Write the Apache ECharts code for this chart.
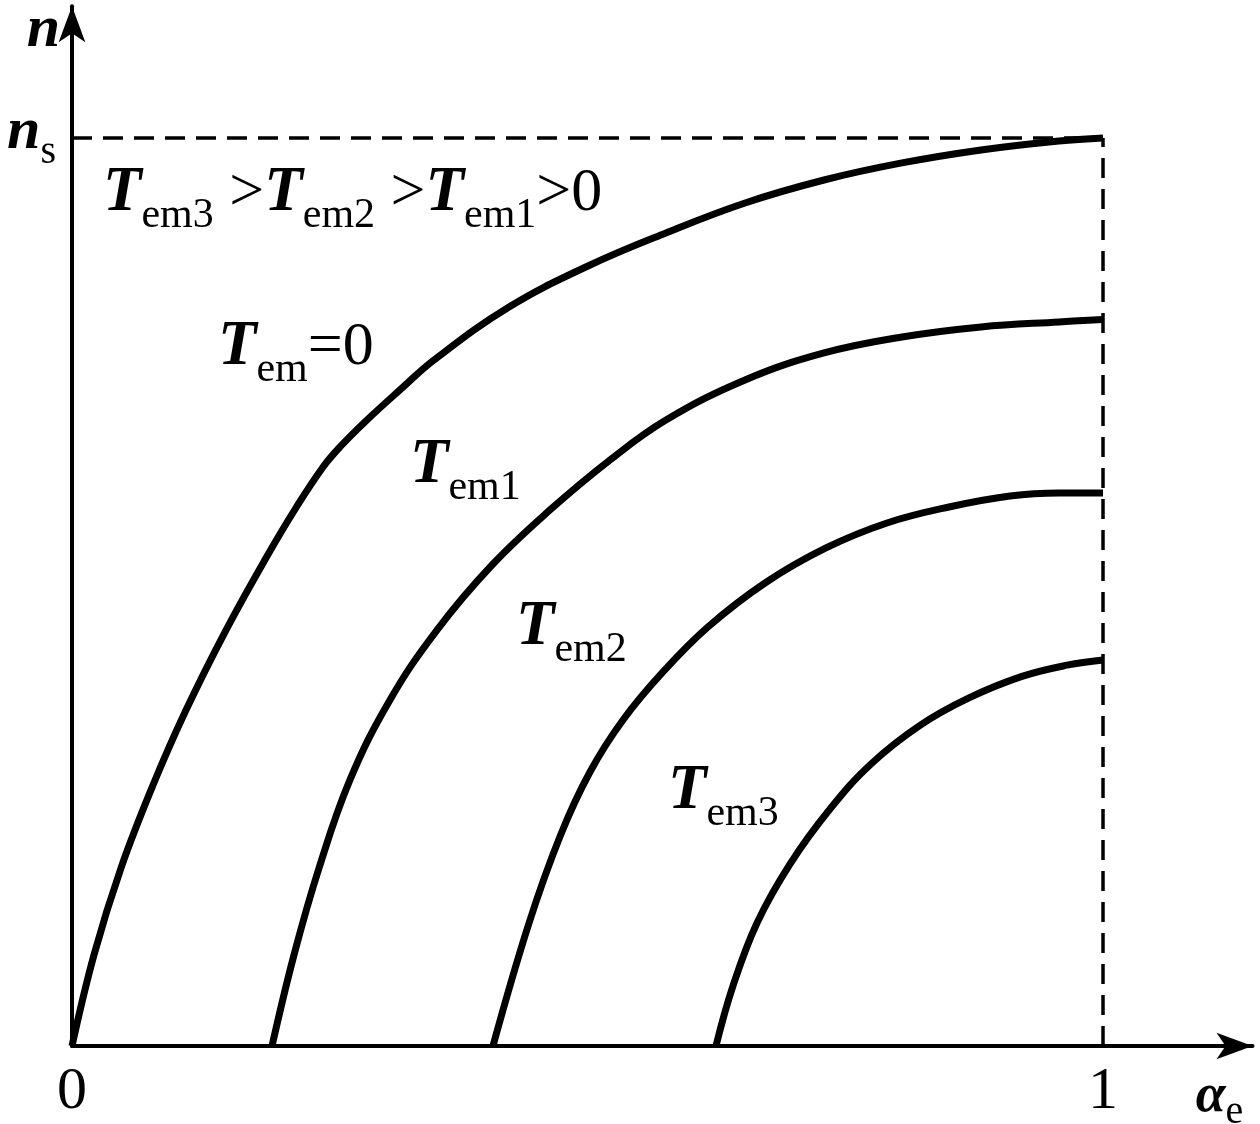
<!DOCTYPE html>
<html><head><meta charset="utf-8">
<script src="https://cdn.jsdelivr.net/npm/echarts@6/dist/echarts.min.js"></script>
<style>html,body{margin:0;padding:0;background:#fff}#c{width:1260px;height:1124px}</style>
</head><body><div id="c"></div>
<script>
// curves: [alpha_e, n / ns]
const curveTem0 = [[0,0],[0.0213,0.1002],[0.0475,0.196],[0.0786,0.2874],[0.1106,0.37],[0.1494,0.4581],[0.1887,0.5385],[0.2177,0.5936],[0.2435,0.6377],[0.2599,0.6597],[0.2861,0.6894],[0.3181,0.7225],[0.3511,0.7555],[0.4239,0.8139],[0.5005,0.859],[0.5761,0.8954],[0.6528,0.9284],[0.7294,0.9537],[0.805,0.9725],[0.8817,0.9868],[0.9573,0.9967],[1,1]];
const curveTem1 = [[0.194,0],[0.2153,0.1002],[0.2396,0.196],[0.2696,0.293],[0.3084,0.3811],[0.354,0.4581],[0.4074,0.5297],[0.4636,0.5903],[0.5218,0.6454],[0.5761,0.6894],[0.6528,0.7335],[0.7294,0.7632],[0.805,0.7808],[0.8817,0.7919],[0.9573,0.7974],[1,0.8]];
const curveTem2 = [[0.4083,0],[0.4433,0.1355],[0.4743,0.2335],[0.5024,0.3018],[0.5344,0.359],[0.5732,0.4119],[0.6169,0.4615],[0.6722,0.5099],[0.7313,0.5485],[0.7905,0.576],[0.8506,0.5936],[0.9098,0.6057],[0.9573,0.609],[1,0.609]];
const curveTem3 = [[0.6246,0],[0.6411,0.0661],[0.6644,0.1355],[0.6964,0.2004],[0.7352,0.261],[0.775,0.3106],[0.8225,0.3531],[0.87,0.3833],[0.9214,0.407],[0.9651,0.4194],[1,0.4251]];
const nsLine = [[0,1],[1,1]];
const unitLine = [[1,0],[1,1]];
const xTickValues = [0, 1];
const xTickLabels = ['0', '1'];
const yTickValues = [1];
const yTickLabels = ['{n|n}{s|s}'];

const SERIF = '"Liberation Serif","Times New Roman",serif';
const chart = echarts.init(document.getElementById('c'), null, {renderer: 'canvas'});

function curveSeries(data) {
  return {type: 'line', data: data, showSymbol: false, smooth: 0.4, silent: true,
    lineStyle: {color: '#000', width: 7, cap: 'butt', join: 'round'}, z: 3};
}
function dashSeries(data) {
  return {type: 'line', data: data, showSymbol: false, silent: true,
    lineStyle: {color: '#000', width: 3.5, type: [20, 11]}, z: 2};
}

const richT = {
  T: {fontFamily: SERIF, fontStyle: 'italic', fontWeight: 'bold', fontSize: 63, color: '#000', verticalAlign: 'bottom', padding: [0, 0, 12, 0]},
  s: {fontFamily: SERIF, fontSize: 42, color: '#000', verticalAlign: 'bottom', padding: [0, 0, 0, 0]},
  g: {fontFamily: SERIF, fontSize: 62, color: '#000', verticalAlign: 'bottom', padding: [0, 0, 12, 0]}
};

function label(x, y, text) {
  return {type: 'text', left: x, top: y, z: 10, style: {text: text, rich: richT}};
}

chart.setOption({
  animation: false,
  backgroundColor: '#fff',
  grid: {left: 72, top: 6.3, right: 7.5, bottom: 78, containLabel: false, outerBoundsMode: 'none'},
  xAxis: {
    type: 'value', min: 0, max: 1.145,
    name: '{a|α}{e|e}', nameLocation: 'end', nameGap: -33,
    nameTextStyle: {align: 'center', verticalAlign: 'top', padding: [24, 0, 0, 0],
      rich: {a: {fontFamily: SERIF, fontStyle: 'italic', fontWeight: 'bold', fontSize: 54, color: '#000', verticalAlign: 'bottom', padding: [0, 0, 8, 0]},
             e: {fontFamily: SERIF, fontSize: 40, color: '#000', verticalAlign: 'bottom'}}},
    axisLine: {show: true, onZero: false, symbol: ['none', 'arrow'], symbolSize: [20, 36], lineStyle: {color: '#000', width: 4}},
    axisTick: {show: false},
    splitLine: {show: false},
    axisLabel: {customValues: xTickValues, formatter: function (v) { return xTickLabels[xTickValues.indexOf(v)] || ''; },
      fontFamily: SERIF, fontSize: 60, color: '#000', margin: 16}
  },
  yAxis: {
    type: 'value', min: 0, max: 1.145,
    name: 'n', nameLocation: 'end', nameGap: -24,
    nameTextStyle: {align: 'right', verticalAlign: 'middle', padding: [0, 12, 0, 0], fontFamily: SERIF, fontStyle: 'italic', fontWeight: 'bold', fontSize: 60, color: '#000'},
    axisLine: {show: true, onZero: false, symbol: ['none', 'arrow'], symbolSize: [20, 36], lineStyle: {color: '#000', width: 4}},
    axisTick: {show: false},
    splitLine: {show: false},
    axisLabel: {customValues: yTickValues, formatter: function (v) { return yTickLabels[yTickValues.indexOf(v)] || ''; },
      margin: 16,
      rich: {n: {fontFamily: SERIF, fontStyle: 'italic', fontWeight: 'bold', fontSize: 60, color: '#000', verticalAlign: 'bottom', padding: [0, 0, 10, 0]},
             s: {fontFamily: SERIF, fontSize: 40, color: '#000', verticalAlign: 'bottom'}}}
  },
  graphic: [
    label(103, 162, '{T|T}{s|em3}{g| >}{T|T}{s|em2}{g| >}{T|T}{s|em1}{g|>0}'),
    label(218, 316, '{T|T}{s|em}{g|=0}'),
    label(410, 434, '{T|T}{s|em1}'),
    label(516, 596, '{T|T}{s|em2}'),
    label(668, 760, '{T|T}{s|em3}')
  ],
  series: [
    dashSeries(nsLine), dashSeries(unitLine),
    curveSeries(curveTem0), curveSeries(curveTem1), curveSeries(curveTem2), curveSeries(curveTem3)
  ]
});
</script></body></html>
